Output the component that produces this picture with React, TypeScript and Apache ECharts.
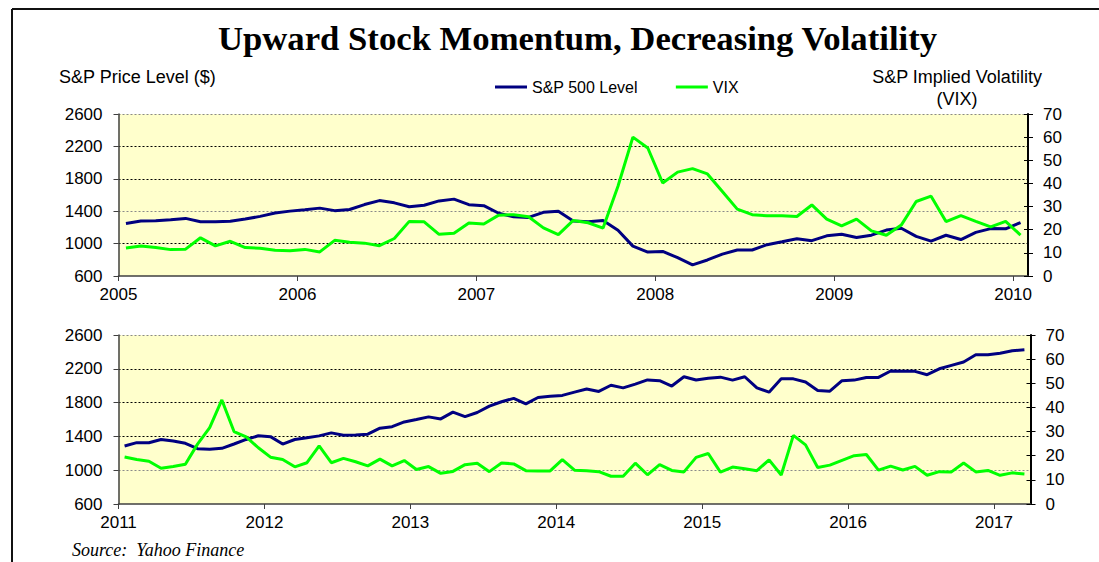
import React, { useEffect, useRef } from 'react';
import * as echarts from 'echarts';

// ---------- DATA ----------
const topYearLabels = ['2005', '2006', '2007', '2008', '2009', '2010'];
const bottomYearLabels = ['2011', '2012', '2013', '2014', '2015', '2016', '2017'];
const topMonthCount = 61; // Jan 2005 .. Jan 2010 (monthly)
const bottomMonthCount = 75; // Jan 2011 .. Mar 2017 (monthly)

const sp500Top = [
  1248, 1280, 1281, 1295, 1311, 1270, 1270, 1277, 1304, 1336, 1378, 1401,
  1418, 1438, 1407, 1421, 1482, 1531, 1503, 1455, 1474, 1527, 1549, 1481,
  1468, 1375, 1331, 1323, 1386, 1400, 1280, 1270, 1285, 1165, 969, 896,
  903, 826, 738, 798, 870, 921, 921, 987, 1023, 1060, 1036, 1096,
  1115, 1076, 1104, 1167, 1190, 1090, 1030, 1103, 1050, 1139, 1185, 1183,
  1259,
];
const vixTop = [
  12.1, 13.0, 12.3, 11.4, 11.6, 16.5, 13.0, 15.0, 12.3, 12.0, 11.1, 10.9,
  11.5, 10.4, 15.4, 14.6, 14.2, 13.1, 16.2, 23.6, 23.4, 18.0, 18.5, 22.9,
  22.5, 26.3, 26.5, 25.6, 20.8, 17.9, 24.0, 23.0, 20.7, 38.8, 60.0, 55.3,
  40.2, 44.9, 46.4, 44.1, 36.5, 28.9, 26.5, 26.0, 26.0, 25.7, 30.7, 24.6,
  21.7, 24.6, 19.5, 17.6, 22.0, 32.2, 34.5, 23.5, 26.1, 23.6, 21.2, 23.6,
  17.7,
];

const sp500Bottom = [
  1287, 1326, 1325, 1363, 1345, 1318, 1255, 1248, 1259, 1310, 1364, 1407,
  1397, 1309, 1363, 1383, 1406, 1442, 1413, 1416, 1426, 1497, 1515, 1571,
  1600, 1631, 1607, 1687, 1634, 1683, 1758, 1810, 1850, 1785, 1860, 1874,
  1885, 1924, 1960, 1932, 2005, 1974, 2019, 2068, 2059, 1996, 2106, 2067,
  2088, 2101, 2066, 2106, 1974, 1923, 2081, 2081, 2043, 1943, 1935, 2059,
  2066, 2098, 2098, 2174, 2172, 2170, 2130, 2200, 2240, 2280, 2366, 2366,
  2384, 2413, 2425,
];
const vixBottom = [
  19.5, 18.4, 17.7, 14.8, 15.5, 16.5, 24.8, 31.6, 43.1, 30.0, 27.8, 23.3,
  19.4, 18.4, 15.4, 17.1, 24.1, 17.1, 18.9, 17.5, 15.8, 18.6, 15.8, 18.0,
  14.3, 15.5, 12.7, 13.5, 16.3, 16.9, 13.4, 17.0, 16.6, 13.8, 13.7, 13.7,
  18.4, 14.0, 13.8, 13.4, 11.5, 11.5, 16.9, 12.1, 16.3, 13.9, 13.3, 19.3,
  20.9, 13.2, 15.3, 14.6, 13.8, 18.3, 12.0, 28.4, 24.5, 15.1, 16.1, 18.1,
  20.0, 20.5, 14.0, 15.7, 14.1, 15.6, 11.9, 13.4, 13.3, 17.0, 13.3, 13.9,
  11.9, 12.9, 12.4,
];

const priceMin = 600;
const priceMax = 2600;
const priceStep = 400;
const vixMin = 0;
const vixMax = 70;
const vixStep = 10;

const seriesNames = ['S&P 500 Level', 'VIX'];

// ---------- STYLE ----------
const SANS = 'Liberation Sans, Arial, sans-serif';
const SERIF = 'Liberation Serif, Times New Roman, serif';
const NAVY = '#000080';
const GREEN = '#00ff00';
const PLOT_BG = '#ffffcc';

function buildOption() {
  const grids = [
    { left: 118.5, right: 71, top: 114, height: 162 },
    { left: 118.5, right: 68.5, top: 335, height: 169 },
  ];

  const makeX = (gridIndex: number, labels: string[], count: number) => {
    const ticks = labels.map((_, k) => k * 12);
    return {
      type: 'value',
      gridIndex,
      min: 0,
      max: count,
      interval: 12,
      axisLine: { show: true, onZero: false, lineStyle: { color: '#404040', width: 1.5 } },
      axisTick: { show: true, length: 5, customValues: ticks, lineStyle: { color: '#404040', width: 1 } },
      axisLabel: {
        customValues: ticks,
        formatter: (v: number) => labels[Math.round(v / 12)] ?? '',
        margin: 10,
        fontSize: 17,
        fontFamily: SANS,
        color: '#000',
      },
      splitLine: { show: false },
    };
  };

  const makeLeftY = (gridIndex: number, lineColors: string[]) => ({
    type: 'value',
    gridIndex,
    position: 'left',
    min: priceMin,
    max: priceMax,
    interval: priceStep,
    axisLine: { show: true, lineStyle: { color: '#404040', width: 1.5 } },
    axisTick: { show: true, length: 5, lineStyle: { color: '#404040' } },
    axisLabel: {
      margin: 16,
      fontSize: 17,
      fontFamily: SANS,
      color: '#000',
      formatter: (v: number) => String(v),
    },
    splitLine: {
      show: true,
      showMinLine: false,
      lineStyle: { color: lineColors, width: 1, type: [2, 2] },
    },
  });

  const makeRightY = (gridIndex: number) => ({
    type: 'value',
    gridIndex,
    position: 'right',
    min: vixMin,
    max: vixMax,
    interval: vixStep,
    axisLine: { show: true, lineStyle: { color: '#000', width: 2 } },
    axisTick: { show: true, length: 5, lineStyle: { color: '#000' } },
    axisLabel: {
      margin: 15,
      fontSize: 17,
      fontFamily: SANS,
      color: '#000',
      formatter: (v: number) => String(v),
    },
    splitLine: { show: false },
  });

  const makeRightInnerTicks = (gridIndex: number) => ({
    type: 'value',
    gridIndex,
    position: 'right',
    min: vixMin,
    max: vixMax,
    interval: vixStep,
    axisLine: { show: false },
    axisTick: { show: true, inside: true, length: 4, lineStyle: { color: '#000' } },
    axisLabel: { show: false },
    splitLine: { show: false },
  });

  const toPts = (arr: number[]) => arr.map((v, i) => [i + 0.5, v]);

  const lineSeries = (name: string, color: string, xi: number, yi: number, arr: number[]) => ({
    type: 'line',
    name,
    xAxisIndex: xi,
    yAxisIndex: yi,
    data: toPts(arr),
    symbol: 'none',
    showSymbol: false,
    lineStyle: { color, width: 3 },
    itemStyle: { color },
    z: 3,
  });

  return {
    animation: false,
    backgroundColor: '#fff',
    grid: grids.map((g) => ({ ...g, show: true, backgroundColor: PLOT_BG, borderWidth: 0, containLabel: false })),
    xAxis: [makeX(0, topYearLabels, topMonthCount), makeX(1, bottomYearLabels, bottomMonthCount)],
    yAxis: [
      makeLeftY(0, ['#000', '#8a8a8a', '#000', '#000', '#8a8a8a']),
      makeRightY(0),
      makeLeftY(1, ['#8a8a8a', '#000', '#000', '#000', '#8a8a8a']),
      makeRightY(1),
      makeRightInnerTicks(0),
      makeRightInnerTicks(1),
    ],
    legend: {
      data: seriesNames,
      left: 495,
      top: 79,
      padding: 0,
      icon: 'rect',
      itemWidth: 32,
      itemHeight: 3,
      itemGap: 38,
      textStyle: { fontSize: 16, fontFamily: SANS, color: '#000' },
    },
    series: [
      lineSeries(seriesNames[0], NAVY, 0, 0, sp500Top),
      lineSeries(seriesNames[1], GREEN, 0, 1, vixTop),
      lineSeries(seriesNames[0], NAVY, 1, 2, sp500Bottom),
      lineSeries(seriesNames[1], GREEN, 1, 3, vixBottom),
    ],
    graphic: [
      { type: 'line', shape: { x1: 12, y1: 9, x2: 1099, y2: 9 }, style: { stroke: '#111', lineWidth: 2 } },
      { type: 'line', shape: { x1: 12, y1: 9, x2: 12, y2: 562 }, style: { stroke: '#111', lineWidth: 2 } },
      {
        type: 'text',
        x: 577.5,
        y: 38.5,
        style: {
          text: 'Upward Stock Momentum, Decreasing Volatility',
          fontSize: 34.7,
          fontWeight: 'bold',
          fontFamily: SERIF,
          fill: '#000',
          textAlign: 'center',
          textVerticalAlign: 'middle',
        },
      },
      {
        type: 'text',
        x: 59,
        y: 77,
        style: {
          text: 'S&P Price Level ($)',
          fontSize: 18,
          fontFamily: SANS,
          fill: '#000',
          textAlign: 'left',
          textVerticalAlign: 'middle',
        },
      },
      {
        type: 'text',
        x: 957,
        y: 77,
        style: {
          text: 'S&P Implied Volatility',
          fontSize: 18,
          fontFamily: SANS,
          fill: '#000',
          textAlign: 'center',
          textVerticalAlign: 'middle',
        },
      },
      {
        type: 'text',
        x: 957,
        y: 99,
        style: {
          text: '(VIX)',
          fontSize: 18,
          fontFamily: SANS,
          fill: '#000',
          textAlign: 'center',
          textVerticalAlign: 'middle',
        },
      },
      {
        type: 'text',
        x: 72,
        y: 550,
        style: {
          text: 'Source:\u00a0 Yahoo Finance',
          fontSize: 18,
          fontStyle: 'italic',
          fontFamily: SERIF,
          fill: '#000',
          textAlign: 'left',
          textVerticalAlign: 'middle',
        },
      },
    ],
  };
}

export default function App() {
  const ref = useRef<HTMLDivElement>(null);
  useEffect(() => {
    document.body.style.margin = '0';
    if (!ref.current) return;
    const chart = echarts.init(ref.current, null, { renderer: 'svg' });
    chart.setOption(buildOption() as any);
    return () => chart.dispose();
  }, []);
  return <div ref={ref} style={{ width: 1099, height: 562 }} />;
}
